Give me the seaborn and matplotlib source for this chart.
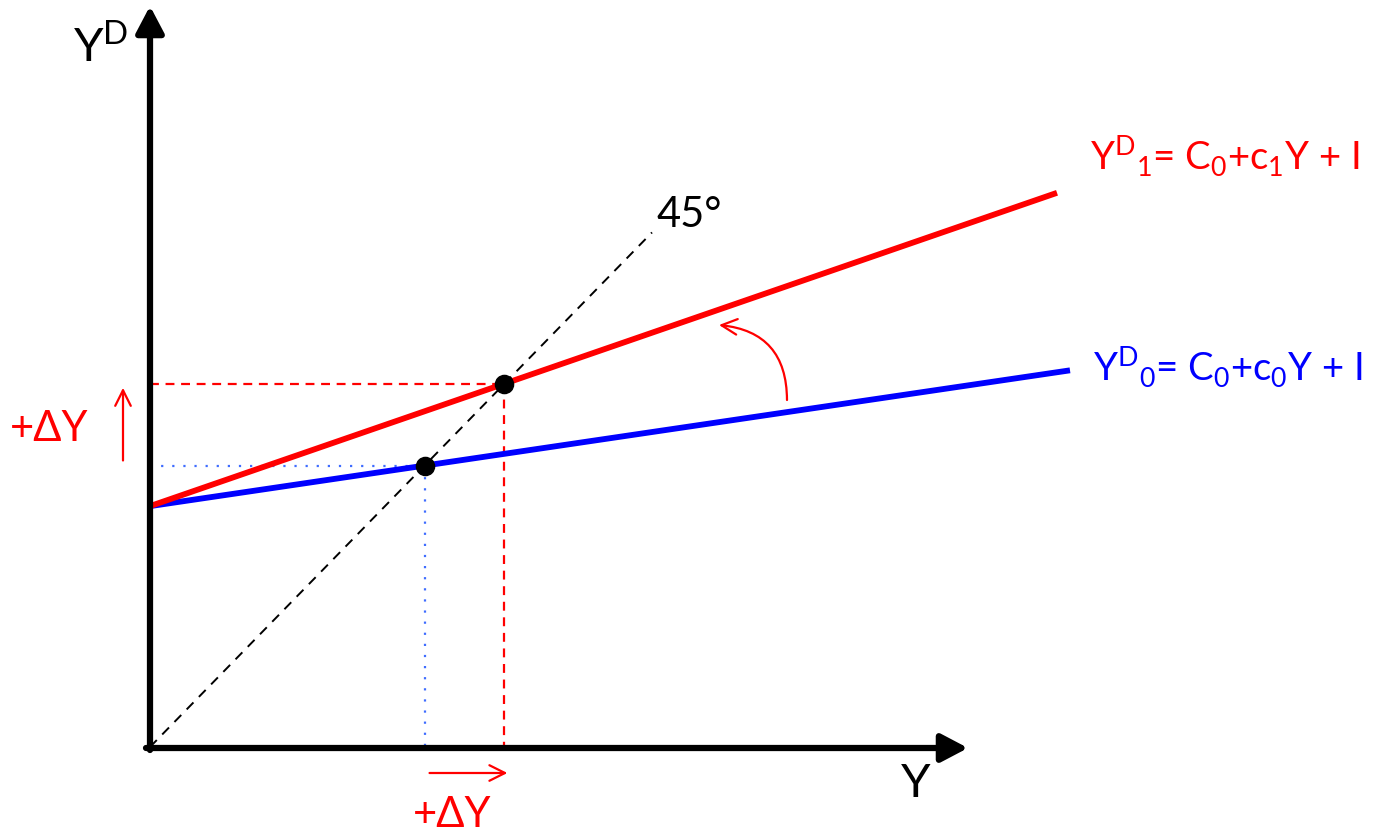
import matplotlib
matplotlib.use("Agg")
import numpy as np
import pandas as pd
import matplotlib.pyplot as plt
import seaborn as sns

# Keynesian cross: autonomous spending and the two marginal propensities to consume
AUTONOMOUS = 235.0          # C0 + I
MPC_VALUES = [0.144, 0.337]  # c0 (initial), c1 (after the rise)
INCOME_ENDS = [920.0, 907.0]
DIAG_END = 502.0
SCHEDULE_COLORS = ["#0000ff", "#ff0000"]
GUIDE_COLORS = ["#3f6dff", "#ff0000"]
SCHEDULE_LABELS = [
    "Y$^\\mathregular{D}$$_\\mathregular{0}$= C$_\\mathregular{0}$+c$_\\mathregular{0}$Y + I",
    "Y$^\\mathregular{D}$$_\\mathregular{1}$= C$_\\mathregular{0}$+c$_\\mathregular{1}$Y + I",
]
AXIS_LABELS = ["Y", "Y$^\\mathregular{D}$"]
ANGLE_LABEL = "45°"
DELTA_LABEL = "+ΔY"

sns.set_style("white")
plt.rcParams["font.family"] = ["Lato", "DejaVu Sans"]
plt.rcParams["mathtext.fontset"] = "custom"
plt.rcParams["mathtext.rm"] = "Lato"
plt.rcParams["text.color"] = "black"

YS = 1.025  # vertical pixels per unit of income


def P(px, py):
    """Figure pixel position -> data position."""
    return (px - 150.0, (747.0 - py) / YS)


fig = plt.figure(figsize=(13.73, 8.33), dpi=100)
ax = fig.add_axes([0, 0, 1, 1])
ax.set_xlim(-150, 1223)
ax.set_ylim(-86 / YS, 747 / YS)
ax.axis("off")

# equilibrium incomes Y* = A / (1 - c)
equilibria = [AUTONOMOUS / (1 - c) for c in MPC_VALUES]

line_kw = dict(ax=ax, estimator=None, sort=False, errorbar=None)

# 45-degree line
diag = pd.DataFrame({"Y": [0.0, DIAG_END], "YD": [0.0, DIAG_END]})
sns.lineplot(data=diag, x="Y", y="YD", color="black", lw=1.4,
             linestyle=(0, (5, 4)), zorder=2, **line_kw)

# guide lines from the equilibria to the axes
guide_styles = [(0, (1, 4)), (0, (4, 3))]
for ystar, col, ls in zip(equilibria, GUIDE_COLORS, guide_styles):
    guide = pd.DataFrame({"Y": [0.0, ystar, ystar], "YD": [ystar, ystar, 0.0]})
    sns.lineplot(data=guide.iloc[:2], x="Y", y="YD", color=col, lw=1.6,
                 linestyle=ls, zorder=2, **line_kw)
    sns.lineplot(data=guide.iloc[1:], x="Y", y="YD", color=col, lw=1.6,
                 linestyle=ls, zorder=2, **line_kw)

# aggregate demand schedules
for c, yend, col in zip(MPC_VALUES, INCOME_ENDS, SCHEDULE_COLORS):
    xs = np.array([0.0, yend])
    sns.lineplot(x=xs, y=AUTONOMOUS + c * xs, color=col, lw=4.2,
                 zorder=3, solid_capstyle="butt", **line_kw)

# equilibrium points
sns.scatterplot(x=equilibria, y=equilibria, ax=ax, color="black", s=170,
                edgecolor="black", zorder=5)

# axes with arrow heads
axis_arrow = dict(arrowstyle="-|>,head_length=0.95,head_width=0.5",
                  lw=4.5, color="black", shrinkA=0, shrinkB=0,
                  mutation_scale=17)
ax.annotate("", xy=P(150, 6), xytext=P(150, 750), arrowprops=axis_arrow, zorder=6)
ax.annotate("", xy=P(968, 748), xytext=P(146, 748), arrowprops=axis_arrow, zorder=6)

# text
ax.text(*P(73, 62), AXIS_LABELS[1], fontsize=34, ha="left", va="baseline")
ax.text(*P(916, 797), AXIS_LABELS[0], fontsize=34, ha="center", va="baseline")
ax.text(*P(656, 227), ANGLE_LABEL, fontsize=30, ha="left", va="baseline")
ax.text(*P(1093, 381), SCHEDULE_LABELS[0], fontsize=27.5, color=SCHEDULE_COLORS[0],
        ha="left", va="baseline")
ax.text(*P(1090, 170), SCHEDULE_LABELS[1], fontsize=27.5, color=SCHEDULE_COLORS[1],
        ha="left", va="baseline")
ax.text(*P(10, 441), DELTA_LABEL, fontsize=30, color="red", ha="left", va="baseline")
ax.text(*P(413, 827), DELTA_LABEL, fontsize=30, color="red", ha="left", va="baseline")

# shift arrows
shift_arrow = dict(arrowstyle="->", color="red", lw=1.6,
                   shrinkA=0, shrinkB=0, mutation_scale=28)
ax.annotate("", xy=(-27, equilibria[1] - 4), xytext=(-27, equilibria[0] + 5),
            arrowprops=shift_arrow)
ax.annotate("", xy=(equilibria[1] + 3, P(0, 773)[1]),
            xytext=(equilibria[0] + 5, P(0, 773)[1]), arrowprops=shift_arrow)
ax.annotate("", xy=P(719, 325), xytext=P(787, 400),
            arrowprops=dict(shift_arrow, connectionstyle="arc3,rad=0.45"))

fig.savefig("out.png", dpi=100)
